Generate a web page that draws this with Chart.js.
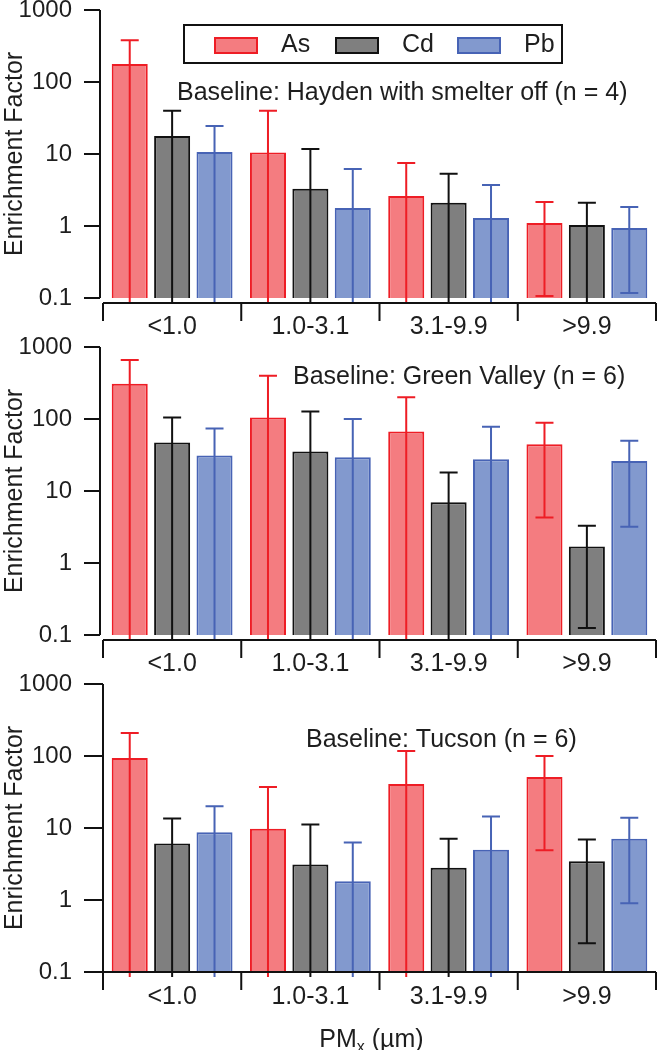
<!DOCTYPE html>
<html>
<head>
<meta charset="utf-8">
<script src="https://cdn.jsdelivr.net/npm/chart.js@4.4.1/dist/chart.umd.min.js"></script>
<style>
  html, body { margin: 0; padding: 0; background: #fff; }
  #wrap { position: relative; width: 660px; height: 1050px; overflow: hidden; }
  canvas { position: absolute; left: 0; }
</style>
</head>
<body>
<div id="wrap">
  <canvas id="hayden" width="660" height="342" style="top:-6px"></canvas>
  <canvas id="greenValley" width="660" height="342" style="top:331px"></canvas>
  <canvas id="tucson" width="660" height="382" style="top:668px"></canvas>
</div>
<script>
// Size bins and elements
const categories = ['<1.0', '1.0-3.1', '3.1-9.9', '>9.9'];
const elements = ['As', 'Cd', 'Pb'];
const yTicks = [0.1, 1, 10, 100, 1000];

// Baseline: Hayden with smelter off (0 in a low array = error bar runs below the axis)
const hayAs = [178, 10.5, 2.6, 1.1];
const hayAsHigh = [380, 40, 7.5, 2.15];
const hayAsLow = [0, 0, 0, 0.107];
const hayCd = [17.8, 3.3, 2.1, 1.03];
const hayCdHigh = [40, 11.7, 5.3, 2.1];
const hayCdLow = [0, 0, 0, 0];
const hayPb = [10.7, 1.78, 1.29, 0.94];
const hayPbHigh = [24.5, 6.2, 3.7, 1.83];
const hayPbLow = [0, 0, 0, 0.117];

// Baseline: Green Valley
const gvAs = [309, 105, 67, 44.5];
const gvAsHigh = [660, 400, 200, 89];
const gvAsLow = [0, 0, 0, 4.3];
const gvCd = [47, 35.5, 7.0, 1.7];
const gvCdHigh = [105, 127, 18, 3.3];
const gvCdLow = [0, 0, 0, 0.125];
const gvPb = [31, 29.5, 27.5, 26];
const gvPbHigh = [74, 100, 78, 50];
const gvPbLow = [0, 0, 0, 3.2];

// Baseline: Tucson
const tuAs = [94, 9.8, 41, 51];
const tuAsHigh = [209, 37, 117, 100];
const tuAsLow = [0, 0, 0, 4.9];
const tuCd = [6.1, 3.1, 2.8, 3.45];
const tuCdHigh = [13.5, 11.2, 7.1, 6.9];
const tuCdLow = [0, 0, 0, 0.25];
const tuPb = [8.7, 1.82, 5.0, 7.1];
const tuPbHigh = [20, 6.3, 14.4, 13.9];
const tuPbLow = [0, 0, 0, 0.9];

const fills = ['#F47C80', '#7F7F7F', '#8299CE'];
const strokes = ['#EE1D25', '#111111', '#4763B5'];
const FONT = '"Liberation Sans", Arial, sans-serif';
const INK = '#1e1e1e';
const SIZE = 25;

// Error bars, axes, legend and notes
const decor = {
    id: 'decor',
    afterDatasetsDraw(chart) {
        const ctx = chart.ctx;
        const y = chart.scales.y;
        const ca = chart.chartArea;
        chart.data.datasets.forEach((ds, i) => {
            const meta = chart.getDatasetMeta(i);
            ctx.save();
            ctx.strokeStyle = ds.borderColor;
            ctx.lineWidth = 2;
            meta.data.forEach((bar, j) => {
                const hi = y.getPixelForValue(ds.errHigh[j]);
                const lowVal = ds.errLow[j];
                const inside = lowVal > y.min;
                const lo = inside ? y.getPixelForValue(lowVal) : ca.bottom + 5;
                ctx.beginPath();
                ctx.moveTo(bar.x, lo);
                ctx.lineTo(bar.x, hi);
                ctx.moveTo(bar.x - 9, hi);
                ctx.lineTo(bar.x + 9, hi);
                if (inside) {
                    ctx.moveTo(bar.x - 9, lo);
                    ctx.lineTo(bar.x + 9, lo);
                }
                ctx.stroke();
            });
            ctx.restore();
        });
    },
    afterDraw(chart, args, opts) {
        const ctx = chart.ctx;
        const x = chart.scales.x;
        const y = chart.scales.y;
        const ca = chart.chartArea;
        ctx.save();

        // axes
        ctx.strokeStyle = '#111';
        ctx.lineWidth = 2;
        const axisX = opts.joined ? ca.left : ca.left - 3;
        const baseY = opts.joined ? ca.bottom : ca.bottom + 5;
        ctx.beginPath();
        ctx.moveTo(axisX, y.getPixelForValue(y.max));
        ctx.lineTo(axisX, y.getPixelForValue(y.min));
        y.ticks.forEach(t => {
            const py = y.getPixelForValue(t.value);
            ctx.moveTo(ca.left - 19, py);
            ctx.lineTo(axisX, py);
        });
        ctx.moveTo(opts.joined ? ca.left - 19 : ca.left, baseY);
        ctx.lineTo(ca.right, baseY);
        for (let k = 0; k <= categories.length; k++) {
            const px = x.getPixelForValue(k - 0.5);
            ctx.moveTo(px, baseY);
            ctx.lineTo(px, baseY + 18);
        }
        ctx.stroke();

        ctx.font = SIZE + 'px ' + FONT;
        ctx.fillStyle = INK;
        ctx.textBaseline = 'middle';
        ctx.textAlign = 'left';

        // note
        ctx.fillText(opts.note, opts.noteX, ca.top + opts.noteY);

        // legend
        if (opts.legend) {
            const top = ca.top + 15;
            ctx.lineWidth = 2;
            ctx.strokeStyle = '#111';
            ctx.strokeRect(184, top, 378, 38);
            const swatchX = [215, 336, 458];
            chart.data.datasets.forEach((ds, i) => {
                ctx.fillStyle = ds.backgroundColor;
                ctx.fillRect(swatchX[i], top + 13, 42, 15);
                ctx.strokeStyle = ds.borderColor;
                ctx.strokeRect(swatchX[i], top + 13, 42, 15);
                ctx.fillStyle = INK;
                ctx.fillText(ds.label, swatchX[i] + 66, top + 20);
            });
        }

        // x title with subscript
        if (opts.xTitle) {
            const ty = ca.bottom + 68;
            const big = SIZE + 'px ' + FONT;
            const small = '16px ' + FONT;
            ctx.font = big;
            const w1 = ctx.measureText('PM').width;
            const w3 = ctx.measureText(' (\u00b5m)').width;
            ctx.font = small;
            const w2 = ctx.measureText('x').width;
            let tx = (ca.left + ca.right) / 2 - 8 - (w1 + w2 + w3) / 2;
            ctx.font = big;
            ctx.fillText('PM', tx, ty);
            ctx.font = small;
            ctx.fillText('x', tx + w1, ty + 8);
            ctx.font = big;
            ctx.fillText(' (\u00b5m)', tx + w1 + w2, ty);
        }
        ctx.restore();
    }
};

function makePanel(id, values, highs, lows, opts) {
    const ctx = document.getElementById(id).getContext('2d');
    return new Chart(ctx, {
        type: 'bar',
        data: {
            labels: categories,
            datasets: elements.map((el, i) => ({
                label: el,
                data: values[i],
                errHigh: highs[i],
                errLow: lows[i],
                backgroundColor: fills[i],
                borderColor: strokes[i],
                borderWidth: 2,
                categoryPercentage: 0.92,
                barPercentage: 0.85
            }))
        },
        options: {
            responsive: false,
            animation: false,
            layout: { padding: { left: 0, right: 4, top: 16, bottom: 0 } },
            plugins: {
                legend: { display: false },
                tooltip: { enabled: false },
                decor: opts
            },
            scales: {
                x: {
                    grid: { display: false, drawTicks: false },
                    border: { display: false },
                    ticks: {
                        color: INK,
                        font: { family: FONT, size: SIZE },
                        padding: opts.joined ? 10 : 14,
                        maxRotation: 0
                    },
                    afterFit: s => { s.height = opts.xTitle ? 78 : 38; }
                },
                y: {
                    type: 'logarithmic',
                    min: 0.1,
                    max: 1000,
                    // tick length only spaces the labels; the marks are drawn by the plugin
                    grid: { display: false, drawTicks: true, tickLength: 31 },
                    border: { display: false },
                    afterBuildTicks: s => { s.ticks = yTicks.map(v => ({ value: v })); },
                    ticks: {
                        color: INK,
                        font: { family: FONT, size: 24 },
                        padding: 0,
                        major: { enabled: false },
                        callback: v => String(v)
                    },
                    title: {
                        display: true,
                        text: 'Enrichment Factor',
                        color: INK,
                        font: { family: FONT, size: SIZE },
                        padding: { top: 0, bottom: 0 }
                    },
                    afterFit: s => { s.width = 103; }
                }
            }
        },
        plugins: [decor]
    });
}

makePanel('hayden', [hayAs, hayCd, hayPb], [hayAsHigh, hayCdHigh, hayPbHigh], [hayAsLow, hayCdLow, hayPbLow],
    { note: 'Baseline: Hayden with smelter off (n = 4)', noteX: 177, noteY: 83, legend: true });
makePanel('greenValley', [gvAs, gvCd, gvPb], [gvAsHigh, gvCdHigh, gvPbHigh], [gvAsLow, gvCdLow, gvPbLow],
    { note: 'Baseline: Green Valley (n = 6)', noteX: 293, noteY: 30 });
makePanel('tucson', [tuAs, tuCd, tuPb], [tuAsHigh, tuCdHigh, tuPbHigh], [tuAsLow, tuCdLow, tuPbLow],
    { note: 'Baseline: Tucson (n = 6)', noteX: 306, noteY: 56, joined: true, xTitle: true });
</script>
</body>
</html>
